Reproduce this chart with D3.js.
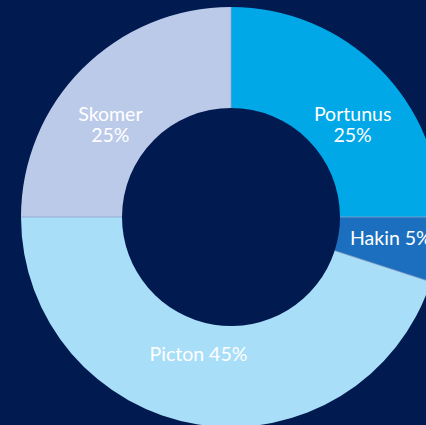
<!DOCTYPE html>
<html>
<head>
<meta charset="utf-8">
<script src="https://cdn.jsdelivr.net/npm/d3@7"></script>
<style>
html,body{margin:0;padding:0;background:#011a50;overflow:hidden;}
svg{display:block;}
</style>
</head>
<body>
<svg id="chart" width="426" height="425"></svg>
<script>
const categories = ["Portunus", "Hakin", "Picton", "Skomer"];
const values = [25, 5, 45, 25];
const labelLines = [["Portunus", "25%"], ["Hakin 5%"], ["Picton 45%"], ["Skomer", "25%"]];

const colors = ["#00a8e8", "#1c6fbf", "#a9def8", "#bccaea"];
const labelOffsets = [[8.5, 17.5, "middle"], [-39, 3, "start"], [-7.5, -14, "middle"], [-7.5, 17.5, "middle"]];

const W = 426, H = 425;
const cx = 231, cy = 217, R = 210, r = 109, labelR = 160;

const svg = d3.select("#chart");
svg.append("rect").attr("width", W).attr("height", H).attr("fill", "#011a50");

const data = categories.map((c, i) => ({ name: c, value: values[i], i }));
const pie = d3.pie().value(d => d.value).sort(null);
const arc = d3.arc().innerRadius(r).outerRadius(R);
const labelArc = d3.arc().innerRadius(labelR).outerRadius(labelR);

const g = svg.append("g").attr("transform", `translate(${cx},${cy})`);
const arcs = pie(data);

g.selectAll("path.slice").data(arcs).join("path")
  .attr("class", "slice")
  .attr("d", arc)
  .attr("fill", d => colors[d.data.i]);

// thin separators between slices
g.selectAll("line.sep").data(arcs).join("line")
  .attr("class", "sep")
  .attr("x1", d => r * Math.sin(d.startAngle))
  .attr("y1", d => -r * Math.cos(d.startAngle))
  .attr("x2", d => R * Math.sin(d.startAngle))
  .attr("y2", d => -R * Math.cos(d.startAngle))
  .attr("stroke", "#8ea4c8")
  .attr("stroke-width", 0.8);

const lineH = 21;
arcs.forEach(d => {
  const [x, y] = labelArc.centroid(d);
  const off = labelOffsets[d.data.i];
  const t = g.append("text")
    .attr("x", x + off[0])
    .attr("y", y + off[1])
    .attr("text-anchor", off[2])
    .attr("fill", "#ffffff")
    .style("font-family", "Lato, 'Open Sans', sans-serif")
    .style("font-size", "19.5px");
  labelLines[d.data.i].forEach((ln, k) => {
    t.append("tspan").attr("x", x + off[0]).attr("dy", k === 0 ? 0 : lineH).text(ln);
  });
});
</script>
</body>
</html>
